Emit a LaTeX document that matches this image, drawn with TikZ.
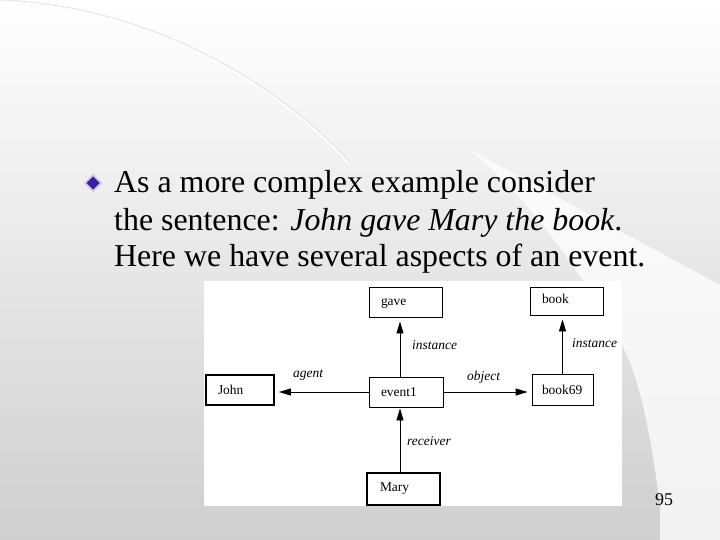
\documentclass[tikz,border=0pt]{standalone}
\usepackage{fontspec}
\setmainfont{Liberation Serif}
\usetikzlibrary{arrows.meta}
\definecolor{bulletpurple}{HTML}{3A1F9E}
\definecolor{bulletrim}{HTML}{C8C0F0}
\begin{document}
\begin{tikzpicture}[x=1bp,y=-1bp,
  concept/.style={draw,line width=0.9bp,inner xsep=12bp,inner ysep=0bp,align=left,
    minimum height=30bp,font=\fontsize{13.5}{15}\selectfont},
  thick box/.style={line width=1.7bp},
  rel/.style={font=\fontsize{13.5}{15}\selectfont\itshape,anchor=west,inner sep=0pt},
  link/.style={line width=0.9bp,-{Triangle[length=12bp,width=7bp]},shorten >=4bp},
  slide line/.style={font=\fontsize{32}{37}\selectfont,anchor=base west,inner sep=0pt}]
\useasboundingbox (0,0) rectangle (720,540);
\shade[top color=white,bottom color=black!19] (0,0) rectangle (720,540);
\fill[white,opacity=0.75] (470,150) -- (720,285) -- (720,540) -- (660,540) -- (660,505)
  .. controls (650,430) and (640,380) .. (622,345)
  .. controls (580,270) and (530,200) .. cycle;
\draw[black!10,line width=1bp] (0,0) .. controls (140,5) and (270,75) .. (350,162);
\draw[white,line width=1.5bp] (1,2) .. controls (140,7) and (270,77) .. (349,164);

\fill[bulletrim] (93,174) -- (102,183) -- (93,192) -- (84,183) -- cycle;
\fill[bulletpurple] (93,176.5) -- (99.5,183) -- (93,189.5) -- (86.5,183) -- cycle;
\node[slide line] (line1) at (114,193) {As a more complex example consider};
\node[slide line] (line2) at (114,230.5) {the sentence: \textit{John gave Mary the book}.};
\node[slide line] (line3) at (114,267) {Here we have several aspects of an event.};

\fill[white] (204,281) rectangle (622,506);

\node[concept,minimum width=73bp,text width=49bp,text depth=0pt] (gave) at (405.5,302) {gave};
\node[concept,minimum width=73bp,text width=49bp,minimum height=28bp,text depth=4bp] (book) at (566.5,301) {book};
\node[concept,thick box,minimum width=68bp,text width=44bp] (john) at (240,390) {John};
\node[concept,minimum width=74bp,text width=50bp] (event) at (406,392) {event1};
\node[concept,minimum width=61bp,text width=41bp,minimum height=31bp,inner xsep=10bp] (book69) at (562.5,389.5) {book69};
\node[concept,thick box,minimum width=73bp,text width=47bp,minimum height=32bp,inner xsep=13bp] (mary) at (403.5,489) {Mary};

\draw[link] ([xshift=-6bp]event.north) -- ([xshift=-6bp]event.north |- gave.south);
\draw[link] (book69.north) -- (book69.north |- book.south);
\draw[link] (event.west) -- (event.west -| john.east);
\draw[link] (event.east) -- (event.east -| book69.west);
\draw[link,shorten >=1bp] ([xshift=-6bp]event.north |- mary.north) -- ([xshift=-6bp]event.south);

\node[rel] (inst1) at (412,345) {instance};
\node[rel] (inst2) at (572,343) {instance};
\node[rel] (agent) at (293,375) {agent};
\node[rel] (object) at (467,377) {object};
\node[rel] (receiver) at (407,441) {receiver};

\node[font=\fontsize{18}{20}\selectfont,anchor=base,inner sep=0pt] (page) at (664,505) {95};
\end{tikzpicture}
\end{document}
